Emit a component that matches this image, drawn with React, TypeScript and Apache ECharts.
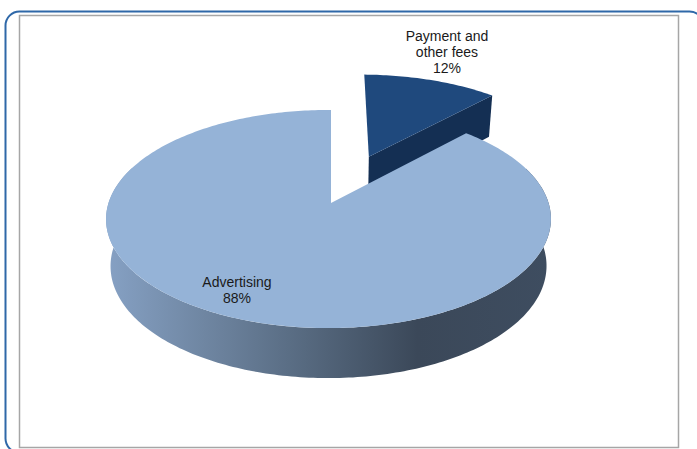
import React, { useEffect, useRef } from "react";
import * as echarts from "echarts";

const categories = ["Advertising", "Payment and\nother fees"];
const values = [88, 12];
const firstSliceAngle = 43.2;
const explosions = [0, 0.5];
const labelAnchors = [
  { x: 237, y: 290 },
  { x: 447, y: 52 },
];

const PIE = { cx: 331, cy: 203, a: 220, b: 106.7, p: 0.147, q: 0.0112 };
const total = values.reduce((s, v) => s + v, 0);
const rad = (d: number) => (d * Math.PI) / 180;

function sliceRange(i: number) {
  let start = firstSliceAngle;
  for (let k = 0; k < i; k++) start += (values[k] / total) * 360;
  return [start, start + (values[i] / total) * 360];
}

function project(u: number, v: number, bottom = false) {
  const w = 1 + PIE.p * v + PIE.q * u;
  const s = bottom ? 0.98 : 1;
  const x = PIE.cx + (s * PIE.a * u) / w;
  let y = PIE.cy - (s * PIE.b * v) / w;
  if (bottom) y += 52.5 - 6.1 * (v + 1);
  return [x, y];
}

function rim(theta: number, ou: number, ov: number, bottom = false) {
  return project(ou + Math.sin(rad(theta)), ov + Math.cos(rad(theta)), bottom);
}

function renderItem(params: any, api: any) {
  const i = api.value(0);
  const [start, end] = sliceRange(i);
  const mid = rad((start + end) / 2);
  const ou = explosions[i] * Math.sin(mid);
  const ov = explosions[i] * Math.cos(mid);
  const top: number[][] = [project(ou, ov)];
  for (let t = start; t <= end + 0.001; t += 1) top.push(rim(t, ou, ov));
  top.push(rim(end, ou, ov));
  const children: any[] = [];
  if (explosions[i] > 0) {
    const radial = end % 360;
    children.push({
      type: "polygon",
      shape: {
        points: [project(ou, ov), rim(radial, ou, ov), rim(radial, ou, ov, true), project(ou, ov, true)],
      },
      style: { fill: "#142f53" },
    });
    children.push({ type: "polygon", shape: { points: top }, style: { fill: "#1f497d" } });
  } else {
    const side: number[][] = [];
    for (let t = 70; t <= 290; t += 1) side.push(rim(t, ou, ov));
    for (let t = 290; t >= 70; t -= 1) side.push(rim(t, ou, ov, true));
    children.push({
      type: "polygon",
      shape: { points: side },
      style: {
        fill: new echarts.graphic.LinearGradient(0, 0, 1, 0, [
          { offset: 0, color: "#86a1c4" },
          { offset: 0.22, color: "#6f86a2" },
          { offset: 0.45, color: "#56697f" },
          { offset: 0.7, color: "#3b4859" },
          { offset: 1, color: "#3e4d60" },
        ]),
      },
    });
    children.push({ type: "polygon", shape: { points: top }, style: { fill: "#95b3d7" } });
  }
  children.push({
    type: "text",
    style: {
      x: labelAnchors[i].x,
      y: labelAnchors[i].y,
      text: `${categories[i]}\n${values[i]}%`,
      fill: "#1a1a1a",
      font: '14px "Liberation Sans"',
      lineHeight: 16,
      align: "center",
      verticalAlign: "middle",
    },
  });
  return { type: "group", children };
}

export default function App() {
  const ref = useRef<HTMLDivElement>(null);
  useEffect(() => {
    document.body.style.margin = "0";
    document.body.style.overflow = "hidden";
    const chart = echarts.init(ref.current!, undefined, { renderer: "svg" });
    chart.setOption({
      animation: false,
      backgroundColor: "#ffffff",
      graphic: [
        {
          type: "rect",
          shape: { x: 19.5, y: 15.5, width: 659, height: 432 },
          style: { fill: "#ffffff", stroke: "#a6a6a6", lineWidth: 1.5 },
          z: -1,
        },
        {
          type: "rect",
          shape: { x: 5.5, y: 11.5, width: 698, height: 441, r: 14 },
          style: { fill: "none", stroke: "#2f68a8", lineWidth: 2 },
          z: -1,
        },
      ],
      series: [
        {
          type: "custom",
          coordinateSystem: "none",
          renderItem,
          data: [[1], [0]],
          encode: { value: 0 },
        },
      ],
    });
    return () => chart.dispose();
  }, []);
  return <div ref={ref} style={{ position: "fixed", left: 0, top: 0, width: 697, height: 449 }} />;
}
